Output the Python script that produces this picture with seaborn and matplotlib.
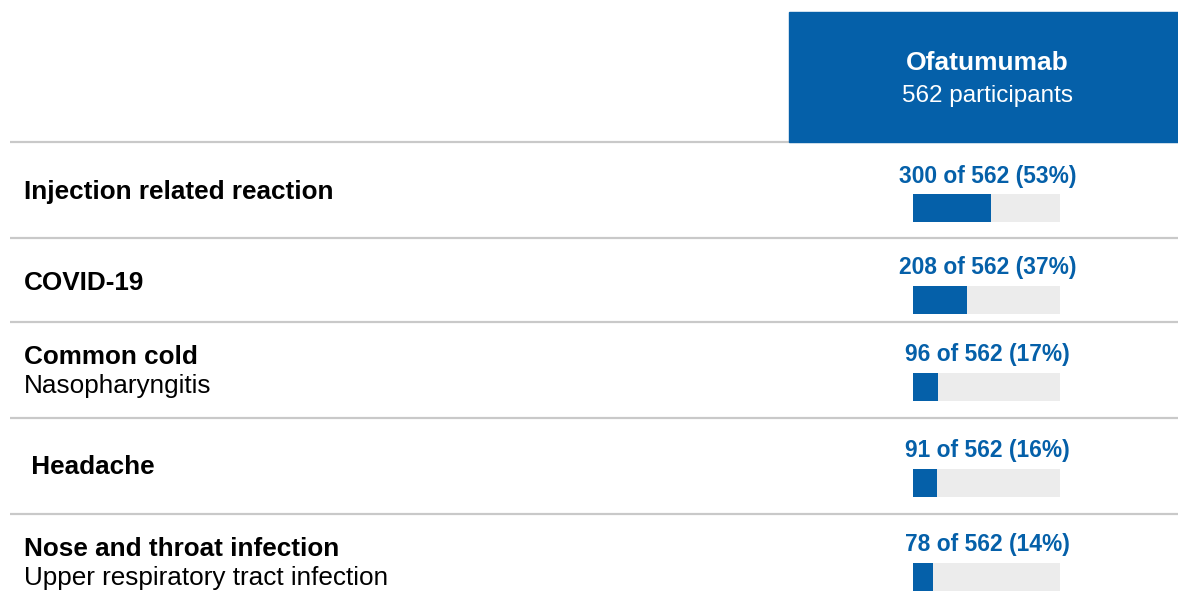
import matplotlib
matplotlib.use("Agg")
import matplotlib.pyplot as plt
from matplotlib.patches import Rectangle
import seaborn as sns
import pandas as pd

# ---- data ----
labels = ["Injection related reaction", "COVID-19", "Common cold", " Headache",
          "Nose and throat infection"]
sublabels = ["", "", "Nasopharyngitis", "", "Upper respiratory tract infection"]
counts = [300, 208, 96, 91, 78]
pct_labels = [53, 37, 17, 16, 14]
total = 562
group_name = "Ofatumumab"
group_sub = "562 participants"

# ---- style ----
sns.set_theme(style="white")
plt.rcParams["font.family"] = ["Liberation Sans", "DejaVu Sans"]

BLUE = "#0560a9"
TRACK = "#ececec"
LINE = "#c9c9c9"
W, H = 1178, 601

fig = plt.figure(figsize=(W / 100, H / 100), dpi=100)
ax0 = fig.add_axes([0, 0, 1, 1])
ax0.set_xlim(0, W)
ax0.set_ylim(H, 0)
ax0.axis("off")

# header box
ax0.add_patch(Rectangle((788.5, 12), W - 788.5, 130, color=BLUE, zorder=1))
ax0.text(987, 63, group_name, color="white", fontsize=19, fontweight="bold",
         ha="center", va="center")
ax0.text(987, 96, group_sub, color="white", fontsize=17.5,
         ha="center", va="center")

# separators
for y in [142, 238, 322, 418, 514]:
    ax0.plot([10, W], [y, y], color=LINE, lw=1.6, zorder=0, solid_capstyle="butt")

# row layout (pixel positions)
bar_tops = [194, 285.5, 373, 468.5, 563]
label_y = [191.5, 282.5, 357.5, 467.5, 549.5]
sub_y = [None, None, 386, None, 578]
bar_x0, bar_w, bar_h = 913, 147, 28

for i, lab in enumerate(labels):
    ax0.text(24, label_y[i], lab, fontsize=18.8, fontweight="bold",
             ha="left", va="center", color="black")
    if sublabels[i]:
        ax0.text(24, sub_y[i], sublabels[i], fontsize=18.8,
                 ha="left", va="center", color="black")
    ax0.text(987.5, bar_tops[i] - 18,
             f"{counts[i]} of {total} ({pct_labels[i]}%)",
             fontsize=16.4, fontweight="bold", color=BLUE,
             ha="center", va="center")

    axb = fig.add_axes([bar_x0 / W, 1 - (bar_tops[i] + bar_h) / H, bar_w / W, bar_h / H])
    df = pd.DataFrame({"row": [labels[i]], "track": [1.0],
                       "frac": [counts[i] / total]})
    sns.barplot(data=df, x="track", y="row", orient="h", color=TRACK,
                width=1, saturation=1, ax=axb, edgecolor="none")
    sns.barplot(data=df, x="frac", y="row", orient="h", color=BLUE,
                width=1, saturation=1, ax=axb, edgecolor="none")
    axb.set_xlim(0, 1)
    axb.set_ylim(0.5, -0.5)
    axb.axis("off")

fig.savefig("out.png", dpi=100)
